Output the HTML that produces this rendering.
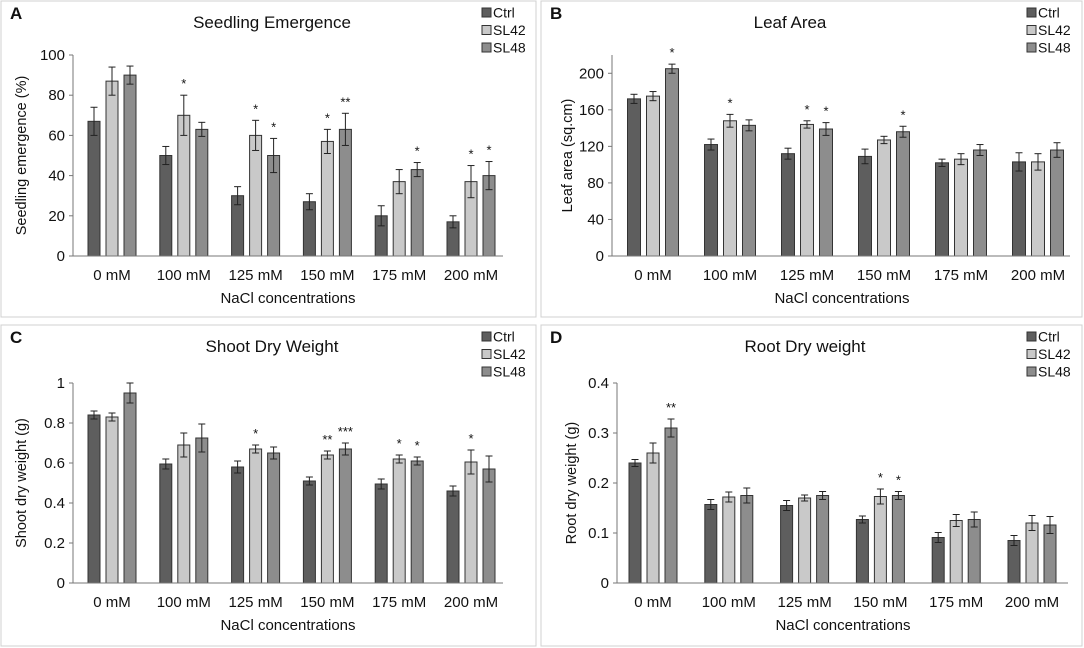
<!DOCTYPE html>
<html><head><meta charset="utf-8"><style>
body{margin:0;background:#fff;}
svg{display:block;font-family:"Liberation Sans",Arial,sans-serif;}
</style></head><body>
<svg id="chart" width="1084" height="648" viewBox="0 0 1084 648" xmlns="http://www.w3.org/2000/svg"></svg>
<script>
const categories = ["0 mM","100 mM","125 mM","150 mM","175 mM","200 mM"];
const seriesNames = ["Ctrl","SL42","SL48"];
const seriesColors = ["#5e5e5e","#c9c9c9","#8d8d8d"];

const aCtrl = [67,50,30,27,20,17];
const aCtrlErr = [7,4.5,4.5,4,5,3];
const aSL42 = [87,70,60,57,37,37];
const aSL42Err = [7,10,7.5,6,6,8];
const aSL48 = [90,63,50,63,43,40];
const aSL48Err = [4.5,3.5,8.5,8,3.5,7];
const aStars42 = ["","*","*","*","","*"];
const aStars48 = ["","","*","**","*","*"];
const aTicks = [0,20,40,60,80,100];

const bCtrl = [172,122,112,109,102,103];
const bCtrlErr = [5,6,6,8,4,10];
const bSL42 = [175,148,144,127,106,103];
const bSL42Err = [5,7,4,4,6,9];
const bSL48 = [205,143,139,136,116,116];
const bSL48Err = [5,6,7,6,6,8];
const bStars42 = ["","*","*","","",""];
const bStars48 = ["*","","*","*","",""];
const bTicks = [0,40,80,120,160,200];

const cCtrl = [0.84,0.595,0.58,0.51,0.495,0.46];
const cCtrlErr = [0.02,0.025,0.03,0.02,0.025,0.025];
const cSL42 = [0.83,0.69,0.67,0.64,0.62,0.605];
const cSL42Err = [0.02,0.06,0.02,0.02,0.02,0.06];
const cSL48 = [0.95,0.725,0.65,0.67,0.61,0.57];
const cSL48Err = [0.05,0.07,0.03,0.03,0.02,0.065];
const cStars42 = ["","","*","**","*","*"];
const cStars48 = ["","","","***","*",""];
const cTicks = [0,0.2,0.4,0.6,0.8,1];

const dCtrl = [0.24,0.157,0.155,0.127,0.091,0.085];
const dCtrlErr = [0.007,0.01,0.01,0.007,0.01,0.01];
const dSL42 = [0.26,0.172,0.17,0.173,0.125,0.12];
const dSL42Err = [0.02,0.01,0.006,0.015,0.012,0.015];
const dSL48 = [0.31,0.175,0.175,0.175,0.127,0.116];
const dSL48Err = [0.018,0.015,0.008,0.008,0.015,0.017];
const dStars42 = ["","","","*","",""];
const dStars48 = ["**","","","*","",""];
const dTicks = [0,0.1,0.2,0.3,0.4];

const NS="http://www.w3.org/2000/svg";
const svg=document.getElementById('chart');
function el(tag,attrs,parent,text){const e=document.createElementNS(NS,tag);for(const k in attrs)e.setAttribute(k,attrs[k]);if(text!==undefined)e.textContent=text;(parent||svg).appendChild(e);return e;}

function panel(p){
  const g=el('g',{});
  
  
  const fr=el('rect',{x:p.bx,y:p.by,width:p.bw,height:p.bh,fill:'none',stroke:'#d0d0d0','stroke-width':1},g);
  
  
  const lt=el('text',{x:p.bx+9,y:p.by+18,'font-size':17,'font-weight':'bold',fill:'#111'},g,p.letter);
  
  
  const tt=el('text',{x:p.titleX,y:p.by+27,'font-size':17,'text-anchor':'middle',fill:'#111'},g,p.title);
  
  
  const y=v=>p.y0-(v/p.max)*(p.y0-p.yTop);
  const ya=el('line',{x1:p.ax,y1:p.yTop,x2:p.ax,y2:p.y0,stroke:'#777','stroke-width':1},g);
  
  
  p.ticks.forEach(t=>{
    el('line',{x1:p.ax-4,y1:y(t),x2:p.ax,y2:y(t),stroke:'#777'},g);
    const tl=el('text',{x:p.ax-8,y:y(t)+5,'font-size':15,'text-anchor':'end',fill:'#111'},g,String(t));
    
    
  });
  const yt=el('text',{x:0,y:0,'font-size':14.5,'text-anchor':'middle',fill:'#111',transform:`translate(${p.ylx},${(p.yTop+p.y0)/2}) rotate(-90)`},g,p.ylabel);
  
  
  const series=[[p.s0,p.e0,null],[p.s1,p.e1,p.st1],[p.s2,p.e2,p.st2]];
  const bw=p.bwid, step=p.step;
  categories.forEach((c,i)=>{
    const cx=p.c0+i*p.sp;
    series.forEach((s,j)=>{
      const bx=cx+(j-1)*step-bw/2;
      const v=s[0][i], e=s[1][i];
      const r=el('rect',{x:bx,y:y(v),width:bw,height:p.y0-y(v),fill:seriesColors[j],stroke:'#333','stroke-width':1},g);
      
      
      const mx=bx+bw/2;
      el('line',{x1:mx,y1:y(v+e),x2:mx,y2:y(v-e),stroke:'#222'},g);
      el('line',{x1:mx-3.5,y1:y(v+e),x2:mx+3.5,y2:y(v+e),stroke:'#222'},g);
      el('line',{x1:mx-3.5,y1:y(v-e),x2:mx+3.5,y2:y(v-e),stroke:'#222'},g);
      if(s[2]&&s[2][i]){
        const st=el('text',{x:mx,y:y(v+e)-7,'font-size':13,'text-anchor':'middle',fill:'#111'},g,s[2][i]);
        
        
      }
    });
    const cl=el('text',{x:cx,y:p.y0+24,'font-size':15,'text-anchor':'middle',fill:'#111'},g,c);
    
    
  });
  const xa=el('line',{x1:p.ax,y1:p.y0,x2:p.xEnd,y2:p.y0,stroke:'#777','stroke-width':1},g);
  
  
  const xt=el('text',{x:p.xtX,y:p.y0+47,'font-size':15,'text-anchor':'middle',fill:'#111'},g,'NaCl concentrations');
  
  
  seriesNames.forEach((n,j)=>{
    const ly=p.by+7+j*17.5;
    const lr=el('rect',{x:p.legX,y:ly,width:9,height:9,fill:seriesColors[j],stroke:'#333'},g);
    
    
    const lt2=el('text',{x:p.legX+11,y:ly+9.5,'font-size':14,fill:'#111'},g,n);
    
    
  });
}

panel({letter:'A',title:'Seedling Emergence',ylabel:'Seedling emergence (%)',bx:1,by:1,bw:535,bh:316,titleX:272,ylx:26,
  ax:73,yTop:55,y0:256,max:100,ticks:aTicks,c0:112,sp:71.8,xEnd:503,xtX:288,legX:482,bwid:12,step:18,
  s0:aCtrl,e0:aCtrlErr,s1:aSL42,e1:aSL42Err,s2:aSL48,e2:aSL48Err,st1:aStars42,st2:aStars48});
panel({letter:'B',title:'Leaf Area',ylabel:'Leaf area (sq.cm)',bx:541,by:1,bw:541,bh:316,titleX:790,ylx:572,
  ax:612,yTop:55,y0:256,max:220,ticks:bTicks,c0:653,sp:77,xEnd:1070,xtX:842,legX:1027,bwid:13,step:19,
  s0:bCtrl,e0:bCtrlErr,s1:bSL42,e1:bSL42Err,s2:bSL48,e2:bSL48Err,st1:bStars42,st2:bStars48});
panel({letter:'C',title:'Shoot Dry Weight',ylabel:'Shoot dry weight (g)',bx:1,by:325,bw:535,bh:321,titleX:272,ylx:26,
  ax:73,yTop:383,y0:583,max:1,ticks:cTicks,c0:112,sp:71.8,xEnd:503,xtX:288,legX:482,bwid:12,step:18,
  s0:cCtrl,e0:cCtrlErr,s1:cSL42,e1:cSL42Err,s2:cSL48,e2:cSL48Err,st1:cStars42,st2:cStars48});
panel({letter:'D',title:'Root Dry weight',ylabel:'Root dry weight (g)',bx:541,by:325,bw:541,bh:321,titleX:805,ylx:576,
  ax:617,yTop:383,y0:583,max:0.4,ticks:dTicks,c0:653,sp:75.8,xEnd:1068,xtX:843,legX:1027,bwid:12,step:18,
  s0:dCtrl,e0:dCtrlErr,s1:dSL42,e1:dSL42Err,s2:dSL48,e2:dSL48Err,st1:dStars42,st2:dStars48});
</script>
</body></html>
